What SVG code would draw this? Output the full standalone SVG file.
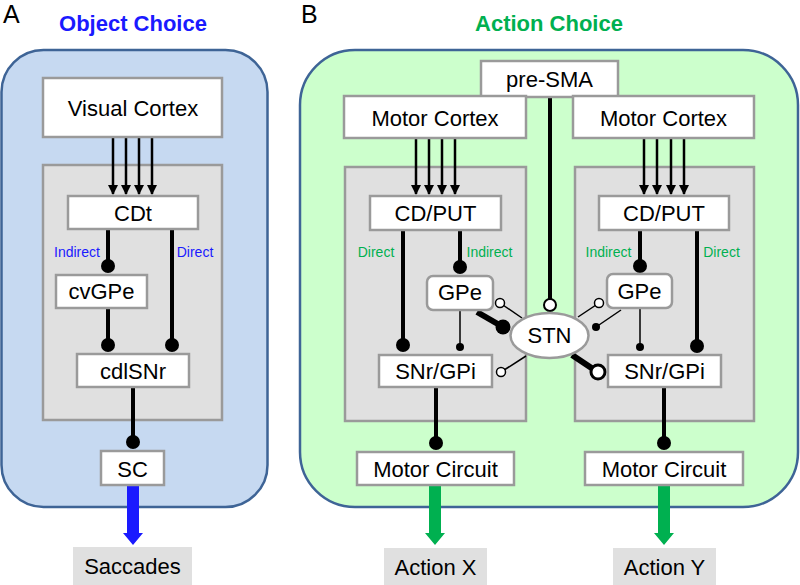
<svg xmlns="http://www.w3.org/2000/svg" width="800" height="585" viewBox="0 0 800 585">
<style>
text{font-family:"Liberation Sans",Arial,sans-serif;text-anchor:middle;fill:#000}
.lbl{font-size:22px}
.small{font-size:14px}
.wbox{fill:#fff;stroke:#9a9a9a;stroke-width:2.5}
.gbox{fill:#e0e0e0;stroke:#9a9a9a;stroke-width:2.5}
.thick{stroke:#000;stroke-width:4;fill:none}
.thin{stroke:#000;stroke-width:1.5;fill:none}
.arr{stroke:#000;stroke-width:2.5;fill:none;marker-end:url(#ah)}
.dot{fill:#000}
.odot{fill:#fff;stroke:#000;stroke-width:1.5}
</style>
<defs>
<marker id="ah" viewBox="0 0 10 10" refX="9" refY="5" markerWidth="4" markerHeight="4" orient="auto" markerUnits="strokeWidth">
<path d="M0,0 L10,5 L0,10 Z" fill="#000"/>
</marker>
</defs>

<!-- Panel backgrounds -->
<g id="panelA">
<rect x="1.5" y="50" width="266" height="457" rx="42" fill="#c6d9f1" stroke="#3e6496" stroke-width="2.5"/>
<text x="3" y="23" style="font-size:25px;text-anchor:start">A</text>
<text x="133" y="31" style="font-size:22px;font-weight:bold;fill:#1a1aff">Object Choice</text>
</g>
<g id="panelB">
<rect x="300" y="50" width="498" height="457" rx="55" fill="#ccffcc" stroke="#3e6496" stroke-width="2.5"/>
<text x="301" y="23" style="font-size:25px;text-anchor:start">B</text>
<text x="549" y="31" style="font-size:22px;font-weight:bold;fill:#00b050">Action Choice</text>
</g>

<!-- Basal ganglia gray boxes -->
<g id="bgA"><rect class="gbox" x="43" y="165" width="179" height="255"/></g>
<g id="bgBL"><rect class="gbox" x="345" y="167" width="181" height="254"/></g>
<g id="bgBR"><rect class="gbox" x="575" y="167" width="179" height="254"/></g>

<!-- Connectors -->
<g id="connectors">
<!-- Panel A -->
<line class="arr" x1="113" y1="138" x2="113" y2="194"/>
<line class="arr" x1="126" y1="138" x2="126" y2="194"/>
<line class="arr" x1="139" y1="138" x2="139" y2="194"/>
<line class="arr" x1="152" y1="138" x2="152" y2="194"/>
<line class="thick" x1="108" y1="229" x2="108" y2="266"/><circle class="dot" cx="108" cy="266" r="7"/>
<line class="thick" x1="172" y1="229" x2="172" y2="345"/><circle class="dot" cx="172" cy="345" r="7"/>
<line class="thick" x1="108" y1="308" x2="108" y2="345"/><circle class="dot" cx="108" cy="345" r="7"/>
<line class="thick" x1="133" y1="387" x2="133" y2="442"/><circle class="dot" cx="133" cy="442" r="7"/>
<path d="M127,485 H139 V533 H143 L133,545 L123,533 H127 Z" fill="#1a1aff"/>

<!-- pre-SMA to STN -->
<line class="thick" x1="550" y1="95" x2="550" y2="299"/><circle class="odot" cx="550" cy="305" r="6" style="stroke-width:2"/>

<!-- Panel B left -->
<line class="arr" x1="416" y1="138" x2="416" y2="194"/>
<line class="arr" x1="429" y1="138" x2="429" y2="194"/>
<line class="arr" x1="442" y1="138" x2="442" y2="194"/>
<line class="arr" x1="455" y1="138" x2="455" y2="194"/>
<line class="thick" x1="403" y1="230" x2="403" y2="345"/><circle class="dot" cx="403" cy="345" r="7"/>
<line class="thick" x1="460" y1="230" x2="460" y2="267"/><circle class="dot" cx="460" cy="267" r="7"/>
<line class="thin" x1="460" y1="310" x2="460" y2="347"/><circle class="dot" cx="460" cy="347" r="4"/>
<line class="thick" x1="436" y1="387" x2="436" y2="443"/><circle class="dot" cx="436" cy="443" r="7"/>
<path d="M429,485 H441 V533 H445 L435,545 L425,533 H429 Z" fill="#00b050"/>
<!-- STN connections left -->
<line x1="477" y1="312" x2="503" y2="327" stroke="#000" stroke-width="6"/><circle class="dot" cx="503" cy="327" r="7.5"/>
<line class="thin" x1="522" y1="318" x2="500" y2="303"/><circle class="odot" cx="500" cy="303" r="4.5"/>
<line class="thin" x1="526" y1="356" x2="501" y2="372"/><circle class="odot" cx="501" cy="372" r="4.5"/>

<!-- Panel B right -->
<line class="arr" x1="644" y1="138" x2="644" y2="194"/>
<line class="arr" x1="657" y1="138" x2="657" y2="194"/>
<line class="arr" x1="671" y1="138" x2="671" y2="194"/>
<line class="arr" x1="684" y1="138" x2="684" y2="194"/>
<line class="thick" x1="640" y1="230" x2="640" y2="266"/><circle class="dot" cx="640" cy="266" r="7"/>
<line class="thick" x1="697" y1="230" x2="697" y2="346"/><circle class="dot" cx="697" cy="346" r="7"/>
<line class="thin" x1="640" y1="308" x2="640" y2="347"/><circle class="dot" cx="640" cy="347" r="4"/>
<line class="thick" x1="664" y1="387" x2="664" y2="443"/><circle class="dot" cx="664" cy="443" r="7"/>
<path d="M658,485 H670 V533 H674 L664,545 L654,533 H658 Z" fill="#00b050"/>
<!-- STN connections right -->
<line class="thin" x1="578" y1="317" x2="599" y2="303"/><circle class="odot" cx="599" cy="303" r="4.5"/>
<line class="thin" x1="621" y1="310" x2="596" y2="327"/><circle class="dot" cx="596" cy="327" r="4"/>
<line x1="572" y1="355" x2="593" y2="369" stroke="#000" stroke-width="6"/><circle cx="598" cy="372" r="7" fill="#fff" stroke="#000" stroke-width="3"/>
</g>

<!-- Panel A nodes -->
<g id="visualCortex"><rect class="wbox" x="43" y="78" width="179" height="59"/><text class="lbl" x="133" y="116">Visual Cortex</text></g>
<g id="CDt"><rect class="wbox" x="68" y="196" width="130" height="33"/><text class="lbl" x="133" y="221">CDt</text></g>
<g id="cvGPe"><rect class="wbox" x="56" y="275" width="91" height="33"/><text class="lbl" x="101.5" y="299">cvGPe</text></g>
<g id="cdlSNr"><rect class="wbox" x="77" y="354" width="112" height="33"/><text class="lbl" x="133" y="379">cdlSNr</text></g>
<g id="SC"><rect class="wbox" x="101" y="451" width="63" height="34"/><text class="lbl" x="132.5" y="477">SC</text></g>
<g id="saccades"><rect x="73" y="547" width="119" height="38" fill="#e0e0e0"/><text class="lbl" x="132.5" y="574">Saccades</text></g>
<text class="small" x="77" y="257" style="fill:#1a1aff">Indirect</text>
<text class="small" x="195" y="257" style="fill:#1a1aff">Direct</text>

<!-- Panel B nodes -->
<g id="preSMA"><rect class="wbox" x="481" y="61" width="137" height="36"/><text class="lbl" x="549.5" y="87">pre-SMA</text></g>
<g id="motorCortexL"><rect class="wbox" x="344" y="96" width="182" height="42"/><text class="lbl" x="435" y="126">Motor Cortex</text></g>
<g id="motorCortexR"><rect class="wbox" x="573" y="96" width="181" height="42"/><text class="lbl" x="663.5" y="126">Motor Cortex</text></g>
<g id="cdputL"><rect class="wbox" x="370" y="196" width="131" height="34"/><text class="lbl" x="435.5" y="221">CD/PUT</text></g>
<g id="cdputR"><rect class="wbox" x="599" y="196" width="130" height="34"/><text class="lbl" x="664" y="221">CD/PUT</text></g>
<g id="gpeL"><rect class="wbox" x="427" y="276" width="66" height="34" rx="6"/><text class="lbl" x="460" y="300">GPe</text></g>
<g id="gpeR"><rect class="wbox" x="607" y="274" width="65" height="34" rx="6"/><text class="lbl" x="639.5" y="299">GPe</text></g>
<g id="snrL"><rect class="wbox" x="379" y="355" width="113" height="32"/><text class="lbl" x="435.5" y="379">SNr/GPi</text></g>
<g id="snrR"><rect class="wbox" x="608" y="355" width="113" height="32"/><text class="lbl" x="664.5" y="379">SNr/GPi</text></g>
<g id="STN"><ellipse cx="549.5" cy="335.5" rx="39" ry="22.5" fill="#fff" stroke="#9a9a9a" stroke-width="2.5"/><text class="lbl" x="549.5" y="343">STN</text></g>
<g id="motorCircuitL"><rect class="wbox" x="357" y="452" width="157" height="33"/><text class="lbl" x="435.5" y="477">Motor Circuit</text></g>
<g id="motorCircuitR"><rect class="wbox" x="585" y="452" width="158" height="33"/><text class="lbl" x="664" y="477">Motor Circuit</text></g>
<g id="actionX"><rect x="384" y="548" width="103" height="37" fill="#e0e0e0"/><text class="lbl" x="435.5" y="575">Action X</text></g>
<g id="actionY"><rect x="613" y="548" width="103" height="37" fill="#e0e0e0"/><text class="lbl" x="664.5" y="575">Action Y</text></g>
<text class="small" x="376" y="257" style="fill:#00b050">Direct</text>
<text class="small" x="489.5" y="257" style="fill:#00b050">Indirect</text>
<text class="small" x="608.5" y="257" style="fill:#00b050">Indirect</text>
<text class="small" x="721.5" y="257" style="fill:#00b050">Direct</text>
</svg>
